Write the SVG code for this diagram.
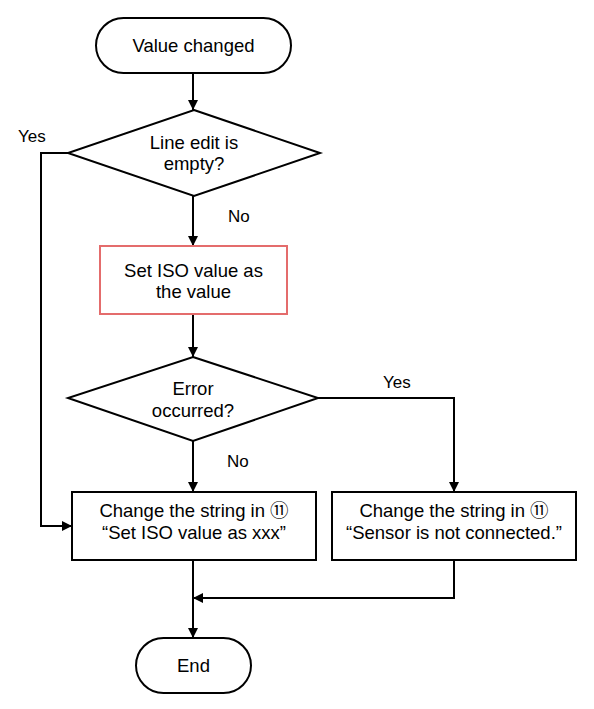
<svg xmlns="http://www.w3.org/2000/svg" width="594" height="709" viewBox="0 0 594 709">
<style>
.n{fill:#fff;stroke:#000;stroke-width:2}
.r{fill:#fff;stroke:#e46c6c;stroke-width:2}
.t{font-family:"Liberation Sans","Noto Sans CJK JP",Arial,sans-serif;font-size:18.5px;fill:#000;text-anchor:middle}
.l{font-family:"Liberation Sans",Arial,sans-serif;font-size:17px;fill:#000}
.c{fill:none;stroke:#000;stroke-width:2}
</style>
<defs>
<marker id="a" markerWidth="10" markerHeight="10" refX="10" refY="5" orient="auto" markerUnits="userSpaceOnUse">
<path d="M0,0 L10,5 L0,10 Z" fill="#000"/>
</marker>
</defs>
<rect width="594" height="709" fill="#fff"/>
<g id="connectors">
<path class="c" d="M193,73 V110" marker-end="url(#a)"/>
<path class="c" d="M193,196 V246" marker-end="url(#a)"/>
<path class="c" d="M68,153 H41 V526 H72" marker-end="url(#a)"/>
<path class="c" d="M193,314 V357" marker-end="url(#a)"/>
<path class="c" d="M193,441 V492" marker-end="url(#a)"/>
<path class="c" d="M318,398 H454 V492" marker-end="url(#a)"/>
<path class="c" d="M193,560 V638" marker-end="url(#a)"/>
<path class="c" d="M454,560 V598 H193" marker-end="url(#a)"/>
<text class="l" x="18" y="142">Yes</text>
<text class="l" x="228" y="222">No</text>
<text class="l" x="383" y="388">Yes</text>
<text class="l" x="227" y="467">No</text>
</g>
<g id="start">
<rect class="n" x="96" y="18" width="195" height="55" rx="27.5"/>
<text class="t" x="193.5" y="52">Value changed</text>
</g>
<g id="empty">
<polygon class="n" points="194,110 320,153 194,196 68,153"/>
<text class="t" x="194" y="149">Line edit is</text>
<text class="t" x="194" y="170">empty?</text>
</g>
<g id="setiso">
<rect class="r" x="100" y="246" width="187" height="68"/>
<text class="t" x="193.5" y="277">Set ISO value as</text>
<text class="t" x="193.5" y="298">the value</text>
</g>
<g id="error">
<polygon class="n" points="193,357 318,398 193,441 68,398"/>
<text class="t" x="193" y="395">Error</text>
<text class="t" x="193" y="417">occurred?</text>
</g>
<g id="change1">
<rect class="n" x="72" y="492" width="244" height="68"/>
<text class="t" x="194" y="517">Change the string in ⑪</text>
<text class="t" x="194" y="539">“Set ISO value as xxx”</text>
</g>
<g id="change2">
<rect class="n" x="332" y="492" width="244" height="68"/>
<text class="t" x="454" y="517">Change the string in ⑪</text>
<text class="t" x="454" y="539">“Sensor is not connected.”</text>
</g>
<g id="end">
<rect class="n" x="136" y="638" width="115" height="55" rx="27.5"/>
<text class="t" x="193.5" y="672">End</text>
</g>
</svg>
